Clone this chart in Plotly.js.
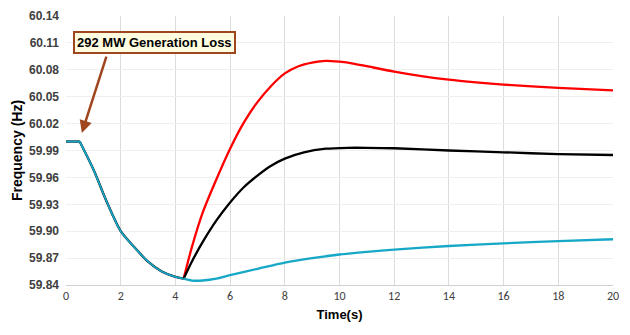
<!DOCTYPE html>
<html>
<head>
<meta charset="utf-8">
<script src="https://cdn.plot.ly/plotly-3.0.1.min.js"></script>
<style>html,body{margin:0;padding:0;background:#fff;}#chart{width:630px;height:335px;}</style>
</head>
<body>
<div id="chart"></div>
<script>
// Pre-disturbance steady state (all cases identical)
const tFlat = [0, 0.5];
const fFlat = [60.000, 60.000];

// Frequency decline after the generation loss (all cases identical)
const tDecline = [0.5, 1.0, 1.5, 2.0, 2.5, 3.0, 3.5, 4.0, 4.3];
const fDecline = [60.000, 59.969, 59.932, 59.900, 59.882, 59.866, 59.855, 59.849, 59.847];

// Recovery, red case
const tRed = [4.3, 4.6, 5.0, 5.5, 6.0, 6.5, 7.0, 7.5, 8.0, 8.5, 9.0, 9.5, 10.0, 10.5, 11.0, 12.0, 13.0, 14.0, 15.0, 16.0, 18.0, 20.0];
const fRed = [59.847, 59.882, 59.921, 59.958, 59.992, 60.021, 60.044, 60.062, 60.076, 60.084, 60.088, 60.090, 60.089, 60.087, 60.084, 60.078, 60.073, 60.069, 60.066, 60.0635, 60.0598, 60.057];

// Recovery, black case
const tBlack = [4.3, 4.6, 5.0, 5.5, 6.0, 6.5, 7.0, 7.5, 8.0, 8.7, 9.5, 10.3, 11.0, 12.0, 14.0, 16.0, 18.0, 20.0];
const fBlack = [59.847, 59.866, 59.888, 59.912, 59.932, 59.949, 59.962, 59.973, 59.981, 59.988, 59.992, 59.993, 59.993, 59.9925, 59.990, 59.988, 59.986, 59.985];

// Recovery, cyan case
const tCyan = [4.3, 4.6, 5.0, 5.5, 6.0, 7.0, 8.0, 9.0, 10.0, 11.0, 12.0, 14.0, 16.0, 18.0, 20.0];
const fCyan = [59.847, 59.845, 59.845, 59.847, 59.851, 59.858, 59.865, 59.870, 59.874, 59.877, 59.8795, 59.8835, 59.8865, 59.889, 59.891];

const yTicks = [59.84, 59.87, 59.90, 59.93, 59.96, 59.99, 60.02, 60.05, 60.08, 60.11, 60.14];
const xTicks = [0, 2, 4, 6, 8, 10, 12, 14, 16, 18, 20];

const annText = '292 MW Generation Loss';

const RED = '#ff0000', BLACK = '#000000', CYAN = '#17a8c8';

function seg(t, f, color, shape) {
  return {
    x: t, y: f, mode: 'lines', type: 'scatter',
    line: {color: color, width: 2.3, shape: shape, smoothing: 0.7},
    hoverinfo: 'skip', showlegend: false
  };
}

const data = [
  seg(tRed, fRed, RED, 'spline'),
  seg(tBlack, fBlack, BLACK, 'spline'),
  seg(tCyan, fCyan, CYAN, 'spline'),
  seg(tFlat, fFlat, BLACK, 'linear'),
  seg(tDecline, fDecline, BLACK, 'spline'),
  seg(tFlat, fFlat, CYAN, 'linear'),
  seg(tDecline, fDecline, CYAN, 'spline')
];
data[5].line.width = 1.8;
data[6].line.width = 1.8;

const layout = {
  width: 630, height: 335,
  margin: {l: 66, r: 17, t: 16, b: 50},
  paper_bgcolor: '#ffffff', plot_bgcolor: '#ffffff',
  showlegend: false,
  xaxis: {
    range: [0, 20], tickvals: xTicks, ticktext: xTicks.map(String),
    showgrid: true, gridcolor: '#dcdcdc', gridwidth: 1,
    zeroline: false, showline: true, linecolor: '#d0d0d0', linewidth: 1,
    ticks: '', tickfont: {family: 'Carlito, Liberation Sans, Arial', size: 12, color: '#404040'},
    title: {text: '<b>Time(s)</b>', font: {family: 'Liberation Sans, Arial', size: 13, color: '#000'}, standoff: 7},
    automargin: false, fixedrange: true
  },
  yaxis: {
    range: [59.84, 60.14], tickvals: yTicks, ticktext: yTicks.map(v => '<b>' + v.toFixed(2) + '</b>'),
    showgrid: true, gridcolor: '#efefef', gridwidth: 1,
    zeroline: false, showline: false,
    ticks: '', ticklabelstandoff: 6,
    tickfont: {family: 'Liberation Sans Narrow, Liberation Sans, Arial', size: 12, color: '#404040'},
    title: {text: '<b>Frequency (Hz)</b>', font: {family: 'Liberation Sans, Arial', size: 14, color: '#000'}, standoff: 3},
    automargin: false, fixedrange: true
  },
  annotations: [
    {
      x: 0.58, y: 60.0095, xref: 'x', yref: 'y',
      ax: 25, ay: -78, axref: 'pixel', ayref: 'pixel',
      text: '', showarrow: true, arrowhead: 2, arrowsize: 1, arrowwidth: 2.5,
      arrowcolor: '#a0461e'
    },
    {
      x: 3.25, y: 60.111, xref: 'x', yref: 'y',
      xanchor: 'center', yanchor: 'middle',
      text: '<b>' + annText + '</b>', showarrow: false,
      font: {family: 'Liberation Sans Narrow, Liberation Sans, Arial', size: 13, color: '#000'},
      bgcolor: '#fffde0', bordercolor: '#a0461e', borderwidth: 2, borderpad: 2
    }
  ]
};

Plotly.newPlot('chart', data, layout, {displayModeBar: false, staticPlot: true});
</script>
</body>
</html>
